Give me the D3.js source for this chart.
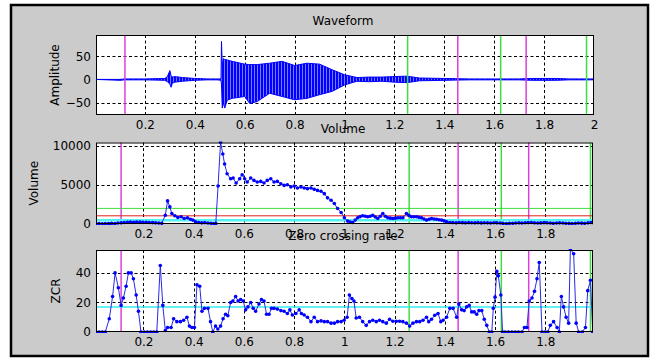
<!DOCTYPE html>
<html>
<head>
<meta charset="utf-8">
<script src="https://cdn.jsdelivr.net/npm/d3@7"></script>
<style>
  body { margin: 0; background: #fff; }
  text { font-family: "DejaVu Sans", sans-serif; fill: #000; }
</style>
</head>
<body>
<svg id="mainFrame" width="654" height="361"></svg>
<script>
// ---- data ----
// waveform envelope (time s, upper, lower)
const waveT  = [0, 0.1, 0.12, 0.2, 0.28, 0.29, 0.3, 0.305, 0.31, 0.32, 0.35, 0.4, 0.45, 0.49, 0.505, 0.507, 0.51, 0.515, 0.52, 0.53, 0.55, 0.6, 0.62, 0.65, 0.7, 0.75, 0.8, 0.85, 0.9, 0.95, 1.0, 1.05, 1.1, 1.15, 1.2, 1.25, 1.3, 1.4, 1.5, 1.6, 1.7, 1.75, 1.8, 1.85, 1.9, 2.0];
const waveHi = [0, 0, 1, 1, 2, 6, 19, 8, 5, 6, 4, 2, 1, 1, 1, 82, 30, 45, 43, 42, 39, 33, 32, 32, 35, 39, 30, 35, 33, 21, 10, 4, 5, 5, 6, 7, 3, 2, 1, 1, 1, 2, 2, 2, 1, 1];
const waveLo = [0, -2, -1, -1, -2, -5, -10, -17, -8, -6, -4, -2, -1, -1, -2, -10, -62, -50, -62, -45, -41, -37, -52, -48, -30, -37, -44, -41, -33, -26, -12, -4, -5, -4, -6, -7, -3, -2, -1, -1, -1, -2, -2, -2, -1, -1];

// volume per frame [time, volume]
const volume = [
  [0.011,40],[0.023,50],[0.036,30],[0.048,60],[0.061,50],[0.073,80],[0.086,70],[0.098,120],[0.111,150],[0.123,200],
  [0.136,230],[0.148,250],[0.161,220],[0.173,260],[0.186,240],[0.198,210],[0.211,230],[0.223,200],[0.236,180],[0.248,150],
  [0.261,120],[0.273,100],[0.287,1130],[0.296,2960],[0.305,2200],[0.313,1350],[0.325,1050],[0.337,840],[0.35,930],[0.362,710],
  [0.375,800],[0.387,600],[0.397,500],[0.407,290],[0.42,200],[0.432,150],[0.444,180],[0.457,120],[0.469,100],[0.48,60],
  [0.488,80],[0.497,4870],[0.507,10470],[0.516,8980],[0.523,7700],[0.533,6440],[0.547,5800],[0.557,5890],[0.569,5250],[0.583,5800],
  [0.593,6310],[0.603,5800],[0.613,5380],[0.627,5890],[0.64,5590],[0.653,5380],[0.667,5460],[0.68,5250],[0.693,5590],[0.707,5800],
  [0.72,5380],[0.733,5460],[0.747,5170],[0.76,4950],[0.773,5040],[0.787,4750],[0.8,4870],[0.813,4620],[0.827,4750],[0.84,4620],
  [0.853,4530],[0.867,4620],[0.88,4440],[0.893,4310],[0.907,4190],[0.92,3890],[0.933,3350],[0.947,3040],[0.96,2620],[0.973,1980],
  [0.987,1480],[1.0,800],[1.013,370],[1.023,250],[1.033,200],[1.043,500],[1.053,800],[1.063,950],[1.073,1050],[1.083,1000],
  [1.093,930],[1.103,1000],[1.113,1130],[1.123,900],[1.133,710],[1.143,1000],[1.153,1350],[1.163,1000],[1.173,800],[1.183,750],
  [1.193,710],[1.203,750],[1.213,800],[1.223,800],[1.233,800],[1.247,1350],[1.257,1100],[1.267,930],[1.277,930],[1.287,930],
  [1.297,850],[1.307,800],[1.317,650],[1.327,500],[1.337,600],[1.347,710],[1.357,650],[1.367,600],[1.377,550],[1.387,500],
  [1.397,400],[1.407,290],[1.42,200],[1.432,180],[1.445,150],[1.457,200],[1.47,170],[1.482,150],[1.495,180],[1.507,160],
  [1.52,150],[1.532,170],[1.545,140],[1.557,160],[1.57,150],[1.582,130],[1.595,160],[1.607,150],[1.62,120],[1.632,80],
  [1.645,60],[1.657,90],[1.67,100],[1.682,130],[1.695,150],[1.707,120],[1.72,160],[1.732,180],[1.745,200],[1.757,150],
  [1.77,120],[1.782,140],[1.795,170],[1.807,150],[1.82,120],[1.832,100],[1.845,130],[1.857,150],[1.87,120],[1.882,100],
  [1.895,80],[1.907,60],[1.92,100],[1.932,130],[1.945,110],[1.957,90],[1.97,150],[1.982,200],[1.99,180]
];

// zero crossing rate per frame [time, zcr]
const zcr = [
  [0.011,0],[0.023,0],[0.036,0],[0.048,0],[0.064,9],[0.077,24],[0.087,40],[0.1,30],[0.111,18],[0.12,23],
  [0.131,31],[0.14,40],[0.151,40],[0.16,36],[0.171,25],[0.18,14],[0.19,0],[0.203,0],[0.216,0],[0.229,0],
  [0.241,0],[0.253,0],[0.267,45],[0.277,18],[0.287,1],[0.296,3],[0.31,3],[0.32,9],[0.333,7],[0.347,7],
  [0.36,8],[0.373,10],[0.383,4],[0.393,3],[0.403,3],[0.413,32],[0.424,31],[0.433,14],[0.443,16],[0.457,16],
  [0.467,7],[0.476,0],[0.487,4],[0.496,2],[0.507,4],[0.517,9],[0.527,12],[0.536,11],[0.547,20],[0.556,21],
  [0.567,24],[0.577,21],[0.587,22],[0.597,21],[0.607,15],[0.616,17],[0.627,20],[0.637,16],[0.647,14],[0.66,19],
  [0.67,22],[0.68,21],[0.69,12],[0.7,12],[0.71,16],[0.72,16],[0.733,15.5],[0.747,14.5],[0.76,14],[0.773,12.5],
  [0.783,15],[0.793,11.5],[0.807,12.5],[0.82,15],[0.829,12.5],[0.84,11.5],[0.853,10],[0.867,7],[0.88,10],[0.893,7],
  [0.907,7.5],[0.92,7],[0.933,7],[0.947,6],[0.96,6],[0.973,7],[0.987,7],[0.999,8],[1.011,10],[1.02,25],
  [1.03,22.6],[1.038,21],[1.047,9.5],[1.06,10],[1.073,7],[1.087,4.5],[1.1,7],[1.113,8],[1.127,7],[1.14,8],
  [1.153,7],[1.167,6],[1.18,8.6],[1.193,7.3],[1.207,7.3],[1.22,7.3],[1.233,7],[1.247,6],[1.26,4],[1.273,6],
  [1.287,7],[1.3,7],[1.313,8],[1.327,10],[1.336,7],[1.347,8.6],[1.36,11.3],[1.373,12.5],[1.384,7],[1.393,8],
  [1.407,10],[1.42,16],[1.433,16],[1.447,10],[1.456,19],[1.467,15],[1.477,14.5],[1.487,17],[1.497,18],[1.507,13.6],
  [1.517,13.6],[1.527,12],[1.536,14.5],[1.547,14.5],[1.557,8.6],[1.567,4.5],[1.577,0],[1.587,0],[1.593,16],[1.6,23.6],
  [1.607,41],[1.613,38],[1.623,25],[1.63,0],[1.64,0],[1.653,0],[1.667,0],[1.68,0],[1.693,0],[1.707,0],
  [1.717,3],[1.727,3],[1.736,21],[1.747,23],[1.757,27.5],[1.767,36],[1.776,47],[1.787,0],[1.8,0],[1.81,0],
  [1.82,4.5],[1.833,7],[1.847,3],[1.856,0],[1.864,24],[1.873,17],[1.883,10],[1.893,6],[1.9,56],[1.913,53],
  [1.923,6],[1.933,0],[1.947,0],[1.96,3],[1.969,28],[1.98,35],[1.989,0]
];

// endpoint markers (magenta = start, green = end)
const waveStarts  = [0.12, 1.454, 1.728];
const waveEnds    = [1.253, 1.626, 1.970];
const frameStarts = [0.111, 1.453, 1.734];
const frameEnds   = [1.258, 1.625, 1.980];

// thresholds
const volHigh = 2000, volLow = 1050, volMin = 480;
const zcrThresh = 17;

const waveXTicks  = [0.2, 0.4, 0.6, 0.8, 1, 1.2, 1.4, 1.6, 1.8, 2];
const frameXTicks = [0.2, 0.4, 0.6, 0.8, 1, 1.2, 1.4, 1.6, 1.8];
const waveYTicks  = [-50, 0, 50];
const volYTicks   = [0, 5000, 10000];
const zcrYTicks   = [0, 20, 40];

// ---- drawing ----
const svg = d3.select('#mainFrame');

// striped fill so the dense waveform reads like many vertical strokes
const pattern = svg.append('defs').append('pattern')
    .attr('id', 'waveFill')
    .attr('patternUnits', 'userSpaceOnUse')
    .attr('width', 3).attr('height', 10);
pattern.append('rect').attr('width', 3).attr('height', 10).attr('fill', '#7a7aff');
pattern.append('rect').attr('width', 2).attr('height', 10).attr('fill', '#0000ff');

svg.append('rect')
    .attr('x', 11).attr('y', 5)
    .attr('width', 637).attr('height', 351)
    .attr('fill', '#cbcbcb')
    .attr('stroke', '#000')
    .attr('stroke-width', 2.5);

const magenta = '#dd3fdd';
const green = '#3fdd3f';
const blue = '#0000ff';

const makePanel = (id, box, xDomain, yDomain, xTicks, yTicks, title, yLabel, labelX) => {
    const x = d3.scaleLinear().domain(xDomain).range([box.left, box.right]);
    const y = d3.scaleLinear().domain(yDomain).range([box.bottom, box.top]);
    const w = box.right - box.left, h = box.bottom - box.top;

    svg.append('clipPath').attr('id', id)
        .append('rect').attr('x', box.left).attr('y', box.top - 1).attr('width', w).attr('height', h + 2);

    svg.append('rect')
        .attr('x', box.left).attr('y', box.top)
        .attr('width', w).attr('height', h)
        .attr('fill', '#fff');

    const grid = svg.append('g')
        .attr('stroke', '#000')
        .attr('stroke-width', 1)
        .attr('stroke-dasharray', '3,2.5');
    grid.selectAll('.gx').data(xTicks.filter(t => t < xDomain[1] - 0.01)).enter().append('line')
        .attr('x1', d => Math.round(x(d)) + 0.5).attr('x2', d => Math.round(x(d)) + 0.5)
        .attr('y1', box.top).attr('y2', box.bottom);
    grid.selectAll('.gy').data(yTicks.filter(t => y(t) < box.bottom - 1 && y(t) > box.top + 1)).enter().append('line')
        .attr('y1', d => Math.round(y(d)) + 0.5).attr('y2', d => Math.round(y(d)) + 0.5)
        .attr('x1', box.left).attr('x2', box.right);

    const xAxis = d3.axisBottom(x).tickValues(xTicks).tickSize(0).tickPadding(5)
        .tickFormat(d => String(+d.toFixed(1)));
    const xg = svg.append('g').attr('transform', `translate(0,${box.bottom})`).call(xAxis);
    xg.select('.domain').remove();
    xg.selectAll('text').attr('font-size', 12).attr('font-family', '"DejaVu Sans", sans-serif').attr('fill', '#000');

    const yAxis = d3.axisLeft(y).tickValues(yTicks).tickSize(0).tickPadding(5)
        .tickFormat(d3.format('d'));
    const yg = svg.append('g').attr('transform', `translate(${box.left},0)`).call(yAxis);
    yg.select('.domain').remove();
    yg.selectAll('text').attr('font-size', 12).attr('font-family', '"DejaVu Sans", sans-serif').attr('fill', '#000');

    svg.append('text')
        .attr('x', 343).attr('y', box.top - 10)
        .attr('text-anchor', 'middle')
        .attr('font-size', 12)
        .text(title);

    svg.append('text')
        .attr('transform', `translate(${labelX},${(box.top + box.bottom) / 2}) rotate(-90)`)
        .attr('text-anchor', 'middle')
        .attr('font-size', 12)
        .text(yLabel);

    const plot = svg.append('g').attr('clip-path', `url(#${id})`);
    return { x, y, plot, box };
};

const drawMarkers = (p, starts, ends) => {
    p.plot.selectAll('.ms').data(starts).enter().append('line')
        .attr('x1', d => p.x(d)).attr('x2', d => p.x(d))
        .attr('y1', p.box.top).attr('y2', p.box.bottom)
        .attr('stroke', magenta).attr('stroke-width', 1.5);
    p.plot.selectAll('.me').data(ends).enter().append('line')
        .attr('x1', d => p.x(d)).attr('x2', d => p.x(d))
        .attr('y1', p.box.top).attr('y2', p.box.bottom)
        .attr('stroke', green).attr('stroke-width', 1.5);
};

const drawBox = p => {
    svg.append('rect')
        .attr('x', p.box.left + 0.5).attr('y', p.box.top + 0.5)
        .attr('width', p.box.right - p.box.left - 1).attr('height', p.box.bottom - p.box.top - 1)
        .attr('fill', 'none').attr('stroke', '#000').attr('stroke-width', 1);
};

const hLine = (p, v, color, width) => {
    p.plot.append('line')
        .attr('x1', p.box.left).attr('x2', p.box.right)
        .attr('y1', p.y(v)).attr('y2', p.y(v))
        .attr('stroke', color).attr('stroke-width', width);
};

const drawSeries = (p, data) => {
    p.plot.append('path')
        .datum(data)
        .attr('fill', 'none')
        .attr('stroke', '#2a2ae6')
        .attr('stroke-width', 1)
        .attr('d', d3.line().x(d => p.x(d[0])).y(d => p.y(d[1])));
    p.plot.selectAll('.dot').data(data).enter().append('circle')
        .attr('cx', d => p.x(d[0])).attr('cy', d => p.y(d[1]))
        .attr('r', 1.8)
        .attr('fill', blue);
};

// Waveform
const wavePanel = makePanel('clipW', { left: 96, right: 594, top: 35, bottom: 115 },
    [0.004, 2], [-77, 96], waveXTicks, waveYTicks, 'Waveform', 'Amplitude', 59);
const waveRows = waveT.map((t, i) => ({ t, hi: waveHi[i], lo: waveLo[i] }));
wavePanel.plot.append('path')
    .datum(waveRows)
    .attr('fill', 'url(#waveFill)')
    .attr('stroke', blue)
    .attr('stroke-width', 1)
    .attr('d', d3.area().x(d => wavePanel.x(d.t)).y0(d => wavePanel.y(d.lo)).y1(d => wavePanel.y(d.hi)));
drawMarkers(wavePanel, waveStarts, waveEnds);
drawBox(wavePanel);

// Volume
const volPanel = makePanel('clipV', { left: 96, right: 593, top: 142.5, bottom: 224 },
    [0.011, 1.99], [0, 10450], frameXTicks, volYTicks, 'Volume', 'Volume', 38);
drawMarkers(volPanel, frameStarts, frameEnds);
hLine(volPanel, volHigh, green, 1);
hLine(volPanel, volLow, '#dd2222', 1);
hLine(volPanel, volMin, '#55f0f0', 2.5);
drawSeries(volPanel, volume);
drawBox(volPanel);

// Zero crossing rate
const zcrPanel = makePanel('clipZ', { left: 96, right: 593, top: 250, bottom: 332 },
    [0.011, 1.99], [0, 55.5], frameXTicks, zcrYTicks, 'Zero crossing rate', 'ZCR', 60);
drawMarkers(zcrPanel, frameStarts, frameEnds);
hLine(zcrPanel, zcrThresh, '#33eeee', 1.5);
drawSeries(zcrPanel, zcr);
drawBox(zcrPanel);
</script>
</body>
</html>
